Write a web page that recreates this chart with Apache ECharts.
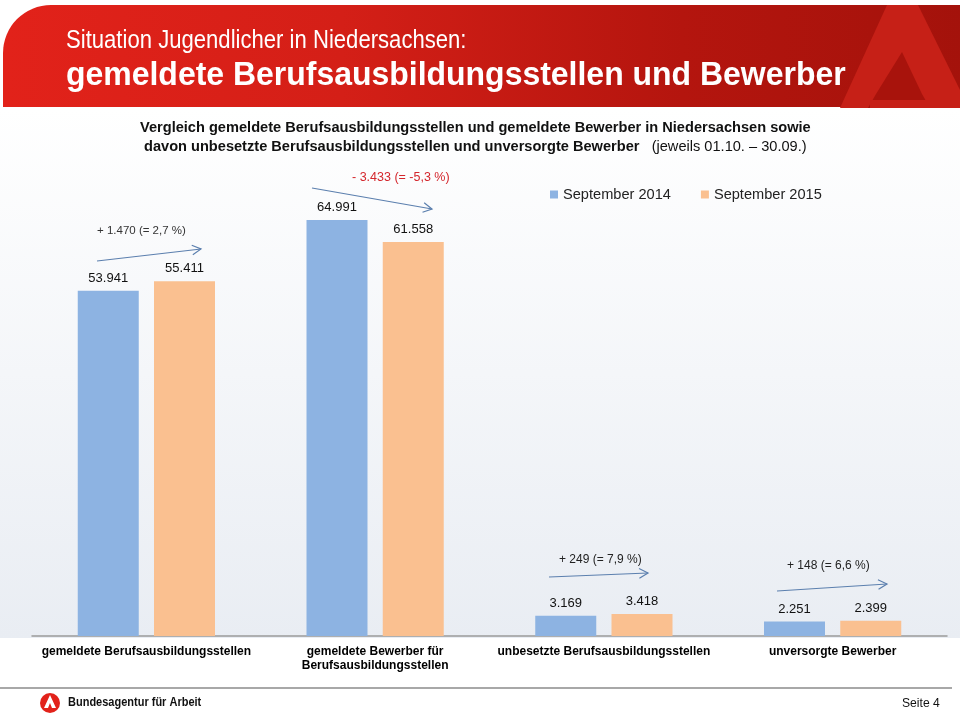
<!DOCTYPE html>
<html><head><meta charset="utf-8">
<script src="https://cdn.jsdelivr.net/npm/echarts@6/dist/echarts.min.js"></script>
<style>html,body{margin:0;padding:0;background:#fff}#c{width:960px;height:719px}</style>
</head><body><div id="c"></div>
<script>
const categories = ['gemeldete Berufsausbildungsstellen', 'gemeldete Bewerber für\nBerufsausbildungsstellen', 'unbesetzte Berufsausbildungsstellen', 'unversorgte Bewerber'];
const seriesNames = ['September 2014', 'September 2015'];
const values2014 = [53941, 64991, 3169, 2251];
const values2015 = [55411, 61558, 3418, 2399];
const changeLabels = ['+ 1.470 (= 2,7 %)', '- 3.433 (= -5,3 %)', '+ 249 (= 7,9 %)', '+ 148 (= 6,6 %)'];

function fmt(v){ return String(v).replace(/\B(?=(\d{3})+(?!\d))/g, '.'); }

const chart = echarts.init(document.getElementById('c'), null, {renderer:'canvas'});
const FF = '"Liberation Sans", Arial, sans-serif';

function arrow(x1,y1,x2,y2,color){
  const a = Math.atan2(y2-y1,x2-x1), L=10, w=0.5;
  return [
    {type:'line', shape:{x1:x1,y1:y1,x2:x2,y2:y2}, style:{stroke:color,lineWidth:1.2}, z:10},
    {type:'polyline', shape:{points:[[x2-L*Math.cos(a-w),y2-L*Math.sin(a-w)],[x2,y2],[x2-L*Math.cos(a+w),y2-L*Math.sin(a+w)]]}, style:{stroke:color,lineWidth:1.2,fill:null}, z:10}
  ];
}
const arrowColor = '#5b7fae';
const annotations = [
  {t:changeLabels[0], x:97, y:232, color:'#333', size:11.5, a:[97,261,201,249]},
  {t:changeLabels[1], x:352, y:179, color:'#d4262c', size:12.5, a:[312,188,432,209]},
  {t:changeLabels[2], x:559, y:561, color:'#222', size:12, a:[549,577,648,573]},
  {t:changeLabels[3], x:787, y:567, color:'#222', size:12, a:[777,591,887,584]}
];
let annoGraphics = [];
annotations.forEach(function(an){
  annoGraphics.push({type:'text', left:an.x, top:an.y-an.size*0.6, style:{text:an.t, fill:an.color, font:'normal '+an.size+'px '+FF}, z:10});
  annoGraphics = annoGraphics.concat(arrow(an.a[0],an.a[1],an.a[2],an.a[3],arrowColor));
});

const option = {
  backgroundColor:'#ffffff',
  animation:false,
  graphic:[
    {type:'rect', shape:{x:0,y:108,width:960,height:530}, style:{fill:new echarts.graphic.LinearGradient(0,0,0,1,[{offset:0,color:'#ffffff'},{offset:1,color:'#e9edf3'}])}, z:-10, silent:true},
    {type:'rect', shape:{x:3,y:5,width:970,height:102,r:[48,0,0,0]}, style:{fill:new echarts.graphic.LinearGradient(0,0,1,0,[{offset:0,color:'#e2221a'},{offset:0.35,color:'#d41f17'},{offset:0.7,color:'#b4150e'},{offset:1,color:'#a3120b'}])}, z:-5},
    {type:'polygon', shape:{points:[[887,5],[918,5],[960,90],[960,108],[840,108]]}, style:{fill:'#c62017'}, z:-4},
    {type:'polygon', shape:{points:[[902,52],[876,94],[922,94]]}, style:{fill:'#a8130c'}, z:-3},
    {type:'polygon', shape:{points:[[876,94],[922,94],[930,108],[868,108]]}, style:{fill:'#a8130c'}, z:-3},
    {type:'rect', shape:{x:870,y:100,width:62,height:8}, style:{fill:'#c62017'}, z:-2},
    {type:'text', x:66, y:28, scaleX:0.85, style:{text:'Situation Jugendlicher in Niedersachsen:', fill:'#ffffff', font:'normal 26px '+FF, verticalAlign:'top'}},
    {type:'text', x:66, y:59, scaleX:0.94, style:{text:'gemeldete Berufsausbildungsstellen und Bewerber', fill:'#ffffff', font:'bold 34px '+FF, verticalAlign:'top'}},
    {type:'text', left:140, top:120, style:{text:'Vergleich gemeldete Berufsausbildungsstellen und gemeldete Bewerber in Niedersachsen sowie', fill:'#111', font:'bold 14.6px '+FF}},
    {type:'text', left:144, top:139, style:{rich:{b:{fill:'#111',font:'bold 14.6px '+FF}, n:{fill:'#111',font:'normal 14.6px '+FF}}, text:'{b|davon unbesetzte Berufsausbildungsstellen und unversorgte Bewerber}{n|   (jeweils 01.10. – 30.09.)}'}},
    {type:'line', shape:{x1:0,y1:688,x2:952,y2:688}, style:{stroke:'#a8a8a8',lineWidth:2}},
    {type:'circle', shape:{cx:50,cy:703,r:10}, style:{fill:'#e2221a'}},
    {type:'polygon', shape:{points:[[50,695],[56,708],[52,708],[50,703],[48,708],[44,708]]}, style:{fill:'#fff'}},
    {type:'text', x:68, y:696, scaleX:0.88, style:{text:'Bundesagentur für Arbeit', fill:'#111', font:'bold 12.5px '+FF, verticalAlign:'top'}},
    {type:'text', x:902, y:696, scaleX:0.9, style:{text:'Seite 4', fill:'#111', font:'normal 13.5px '+FF, verticalAlign:'top'}}
  ].concat(annoGraphics),
  legend:{
    data:seriesNames, left:545, top:182, itemWidth:8, itemHeight:8, itemGap:30, icon:'rect',
    textStyle:{fontSize:14.6, color:'#222', fontFamily:FF}
  },
  grid:{left:32, right:13, top:188, bottom:83, containLabel:false},
  xAxis:{
    type:'category', data:categories,
    axisLine:{show:true, lineStyle:{color:'#9a9a9a', width:1.5}},
    axisTick:{show:false},
    axisLabel:{interval:0, margin:9, color:'#000', fontWeight:'bold', fontSize:12, lineHeight:14, fontFamily:FF}
  },
  yAxis:{type:'value', min:0, max:70000, show:false, splitLine:{show:false}},
  series:[
    {name:seriesNames[0], type:'bar', data:values2014, barWidth:61, barGap:'25%', itemStyle:{color:'#8db3e2'},
      label:{show:true, position:'top', distance:6, color:'#111', fontSize:13, fontFamily:FF, formatter:function(p){return fmt(p.value);}}},
    {name:seriesNames[1], type:'bar', data:values2015, barWidth:61, itemStyle:{color:'#fac090'},
      label:{show:true, position:'top', distance:6, color:'#111', fontSize:13, fontFamily:FF, formatter:function(p){return fmt(p.value);}}}
  ]
};
chart.setOption(option);
</script></body></html>
